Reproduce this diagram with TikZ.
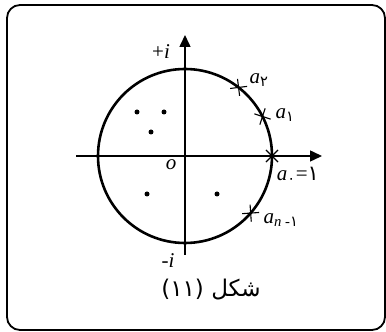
\documentclass[tikz,border=0pt]{standalone}
\usepackage{fontspec}
\setmainfont{Liberation Serif}
\usepackage{tikz}
\usetikzlibrary{arrows.meta,calc,shapes.misc}
\newfontfamily\arabicfont[Script=Arabic]{DejaVu Sans}
\TeXXeTstate=1
\newcommand{\fa}[1]{{\arabicfont #1}}
\newcommand{\ai}[1]{\textit{a}\textsubscript{#1}}
\begin{document}
\begin{tikzpicture}[x=1pt,y=1pt,
    xmark/.style={cross out, draw, line width=1.1pt, minimum size=11pt, inner sep=0pt},
    root/.style={circle, fill, inner sep=0pt, minimum size=5pt},
    lbl/.style={font=\fontsize{21}{25}\selectfont, inner sep=1pt}]
        \def\r{87}
        \useasboundingbox (0,0) rectangle (386,332);
        % Draw the frame
        \draw[line width=1.8pt, rounded corners=13pt] (7,2) rectangle (385,327);
        % Draw the unit circle
        \coordinate (O) at (185,176);
        \draw[line width=2.6pt] (O) circle (\r);
        %axis
        \coordinate (xl) at (76,176);
        \coordinate (xr) at (322,176);
        \coordinate (yb) at (185,77);
        \coordinate (yt) at (185,297);
        \draw[line width=1.5pt,-{Triangle[length=12pt,width=11pt]}] (xl) -- (xr);
        \draw[line width=1.5pt,-{Triangle[length=12pt,width=11pt]}] (yb) -- (yt);
        \node[lbl] (ip) at (161,280) {+\textit{i}};
        \node[lbl] (im) at (168,71) {-\textit{i}};
        \node[lbl] (o) at (171,167) {\textit{o}};
        % Roots
        \node[root] (z1) at (137,220) {};
        \node[root] (z2) at (164,220) {};
        \node[root] (z3) at (151,200) {};
        \node[root] (z4) at (147,138) {};
        \node[root] (z5) at (217,138) {};
        % Points on the circle
        \node[xmark, rotate=52] (a2) at ($(O)+(52:\r)$) {};
        \node[xmark, rotate=27] (a1) at ($(O)+(27:\r)$) {};
        \node[xmark] (a0) at ($(O)+(0:\r)$) {};
        \node[xmark, rotate=-41] (an) at ($(O)+(-41:\r)$) {};
        \node[lbl] (la2) at (259,252) {\ai{\fa{۲}}};
        \node[lbl] (la1) at (285,217) {\ai{\fa{۱}}};
        \node[lbl] (la0) at (298,157) {\ai{\fa{۰}}=\fa{۱}};
        \node[lbl] (lan) at (281,112) {\ai{\textit{n} -\fa{۱}}};
        % Caption
        \node[font=\fontsize{23}{27}\selectfont] (cap) at (211,42)
            {\arabicfont\beginR شکل \beginL(۱۱)\endL\endR};
      \end{tikzpicture}
\end{document}
